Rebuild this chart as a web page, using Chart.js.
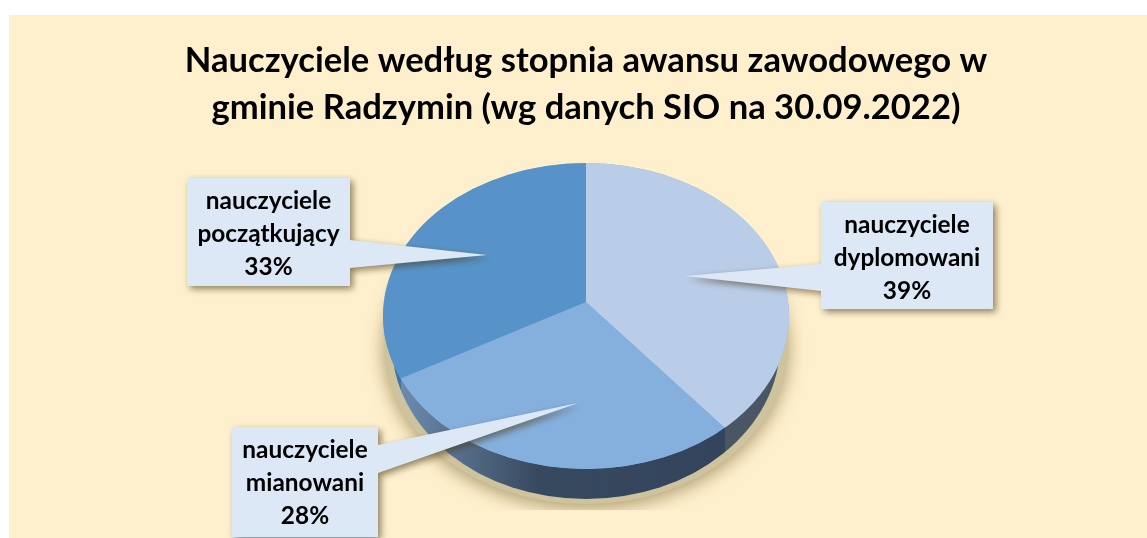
<!DOCTYPE html>
<html>
<head>
<meta charset="utf-8">
<title>Nauczyciele wg stopnia awansu</title>
<script src="https://cdn.jsdelivr.net/npm/chart.js@4"></script>
<style>
    html, body { margin: 0; padding: 0; background: #fff; }
    canvas { display: block; }
</style>
</head>
<body>
<canvas id="pieChart" width="1147" height="538"></canvas>
<script>
var titleLines = ['Nauczyciele według stopnia awansu zawodowego w', 'gminie Radzymin (wg danych SIO na 30.09.2022)'];
var categories = ['nauczyciele dyplomowani', 'nauczyciele mianowani', 'nauczyciele początkujący'];
var percentValues = [39, 28, 33];
var sliceColors = ['#B9CDE8', '#85B0DE', '#5793C9'];

// look of the 3d disc, in page pixels
var apex = { x: 586, y: 302 };
var top3d = { x: 586, y: 316, rx: 203, ry: 153 };
var base3d = { x: 586, y: 344, rx: 194, ry: 155 };
var tilt = 0.75;

// callout boxes and where their pointers end, same order as categories
var callouts = [
    { box: [821, 202, 172, 107], tip: [685, 276], root: [264, 291] },
    { box: [232, 427, 146, 110], tip: [578, 403], root: [445, 473] },
    { box: [187, 178, 163, 108], tip: [487, 255], root: [240, 268] }
];

function ellipsePath(ctx, e) {
    ctx.beginPath();
    ctx.ellipse(e.x, e.y, e.rx, e.ry, 0, 0, Math.PI * 2);
}

// x where a slice edge leaves the top ellipse
function rimX(angle) {
    var dx = Math.cos(angle), dy = Math.sin(angle) * tilt;
    var ox = (apex.x - top3d.x) / top3d.rx, oy = (apex.y - top3d.y) / top3d.ry;
    var vx = dx / top3d.rx, vy = dy / top3d.ry;
    var a = vx * vx + vy * vy, b = 2 * (ox * vx + oy * vy), c = ox * ox + oy * oy - 1;
    var t = (-b + Math.sqrt(b * b - 4 * a * c)) / (2 * a);
    return apex.x + dx * t;
}

var disc3d = {
    id: 'disc3d',
    beforeDraw: function (chart) {
        var ctx = chart.ctx;
        ctx.fillStyle = '#FFF0CD';
        ctx.fillRect(9, 15, 1138, 523);
    },
    beforeDatasetsDraw: function (chart) {
        var ctx = chart.ctx;
        var arcs = chart.getDatasetMeta(0).data;

        // soft shadow under the disc, cut off flat at the bottom
        ctx.save();
        ctx.beginPath();
        ctx.rect(0, 0, 1147, 510);
        ctx.clip();
        ctx.shadowColor = 'rgba(110, 95, 45, 0.6)';
        ctx.shadowBlur = 18;
        ctx.shadowOffsetY = 4;
        ctx.fillStyle = '#cfc39d';
        ellipsePath(ctx, { x: 586, y: 345, rx: 202, ry: 159 });
        ctx.fill();
        ctx.restore();

        // side wall, colours change at the slice edges
        var x0 = top3d.x - top3d.rx, w = top3d.rx * 2;
        var leftEdge = (rimX(arcs[1].endAngle) - x0) / w;
        var rightEdge = (rimX(arcs[0].endAngle) - x0) / w;
        var wall = ctx.createLinearGradient(x0, 0, x0 + w, 0);
        wall.addColorStop(0, '#3E75A6');
        wall.addColorStop(leftEdge, '#3E75A6');
        wall.addColorStop(leftEdge + 0.001, '#6C8BAD');
        wall.addColorStop(0.38, '#37495F');
        wall.addColorStop(rightEdge, '#33445C');
        wall.addColorStop(rightEdge + 0.001, '#4A5663');
        wall.addColorStop(1, '#4A5663');
        ctx.fillStyle = wall;
        ellipsePath(ctx, base3d);
        ctx.fill();

        ctx.fillStyle = sliceColors[1];
        ellipsePath(ctx, top3d);
        ctx.fill();

        // slices are cut out of the ellipse, the centre sits off-centre like in perspective
        ctx.save();
        ellipsePath(ctx, top3d);
        ctx.clip();
        ctx.translate(apex.x, apex.y);
        ctx.scale(1, tilt);
        ctx.translate(-arcs[0].x, -arcs[0].y);
    },
    afterDatasetsDraw: function (chart) {
        var ctx = chart.ctx;
        ctx.restore();

        callouts.forEach(function (c, i) {
            var b = c.box;
            var side = c.tip[0] > b[0] ? b[0] + b[2] : b[0];
            ctx.save();
            ctx.shadowColor = 'rgba(70, 55, 20, 0.6)';
            ctx.shadowBlur = 7;
            ctx.shadowOffsetX = 3;
            ctx.shadowOffsetY = 3;
            ctx.fillStyle = '#DCE8F6';
            ctx.beginPath();
            ctx.moveTo(b[0], b[1]);
            ctx.lineTo(b[0] + b[2], b[1]);
            if (side === b[0] + b[2]) {
                ctx.lineTo(side, c.root[0]);
                ctx.lineTo(c.tip[0], c.tip[1]);
                ctx.lineTo(side, c.root[1]);
            }
            ctx.lineTo(b[0] + b[2], b[1] + b[3]);
            ctx.lineTo(b[0], b[1] + b[3]);
            if (side === b[0]) {
                ctx.lineTo(side, c.root[1]);
                ctx.lineTo(c.tip[0], c.tip[1]);
                ctx.lineTo(side, c.root[0]);
            }
            ctx.closePath();
            ctx.fill();
            ctx.restore();

            var words = categories[i].split(' ');
            var lines = [words[0], words[1], percentValues[i] + '%'];
            ctx.save();
            ctx.fillStyle = '#000';
            ctx.font = 'bold 24.4px Lato';
            ctx.textAlign = 'center';
            ctx.textBaseline = 'middle';
            lines.forEach(function (line, k) {
                ctx.fillText(line, b[0] + b[2] / 2, b[1] + 23 + k * 33);
            });
            ctx.restore();
        });
    }
};

var pieChart = new Chart(document.getElementById('pieChart').getContext('2d'), {
    type: 'pie',
    data: {
        labels: categories,
        datasets: [{
            data: percentValues,
            backgroundColor: sliceColors,
            borderWidth: 0,
            clip: false
        }]
    },
    options: {
        responsive: false,
        animation: false,
        radius: '150%',
        layout: { padding: { left: 25 } },
        plugins: {
            legend: { display: false },
            tooltip: { enabled: false },
            title: {
                display: true,
                text: titleLines,
                color: '#000',
                font: { family: 'Lato', size: 34.6, weight: 'bold', lineHeight: '47px' },
                padding: { top: 37, bottom: 10 }
            }
        }
    },
    plugins: [disc3d]
});
</script>
</body>
</html>
